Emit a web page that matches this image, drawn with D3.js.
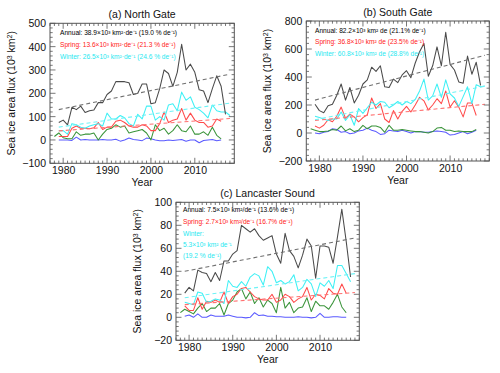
<!DOCTYPE html>
<html>
<head>
<meta charset="utf-8">
<script src="https://cdn.jsdelivr.net/npm/d3@7"></script>
<style>
  body { margin: 0; background: #fff; }
  svg { display: block; font-family: "Liberation Sans", Arial, sans-serif; }
</style>
</head>
<body>
<script>
// ---- data ----
const titles = ["(a) North Gate", "(b) South Gate", "(c) Lancaster Sound"];
const startAnnual = 1979, startSpring = 1979, startWinter = 1979, startSummer = 1978, startAutumn = 1979;
const trendYears = [1979, 2018];

// (a) North Gate
const northAnnual = [75,85,65,140,130,145,118,125,128,160,160,195,210,250,250,250,245,195,200,240,240,155,160,220,300,285,230,290,410,300,325,290,215,210,160,220,275,230,110];
const northSpring = [15,15,15,50,60,50,50,48,52,75,45,55,55,80,85,75,60,55,55,65,60,40,40,70,120,75,85,90,135,85,115,85,75,75,55,60,90,80];
const northWinter = [40,40,25,70,65,55,50,60,65,70,60,115,90,90,105,95,70,60,110,90,145,145,85,100,85,150,155,125,205,170,185,140,130,115,95,150,125,120,120,105];
const northSummer = [15,30,10,5,5,35,20,25,25,30,0,25,45,50,65,55,60,30,35,40,45,30,0,65,40,50,25,40,65,40,35,60,25,25,35,20,55,20,5];
const northAutumn = [0,0,0,-2,12,0,2,0,0,0,2,0,0,3,-5,0,8,2,0,-3,8,5,0,-3,-3,0,-2,0,2,-5,0,0,-12,-2,0,2,-3,0];
const northTrendAnnual = [130, 282], northTrendSpring = [39, 92], northTrendWinter = [55, 158];
const northLabels = ["Annual: 38.9×10³ km²·de⁻¹ (19.0 % de⁻¹)", "Spring: 13.6×10³ km²·de⁻¹ (21.3 % de⁻¹)", "Winter: 26.5×10³ km²·de⁻¹ (24.6 % de⁻¹)"];
const northTicks = [-100, 0, 100, 200, 300, 400, 500];

// (b) South Gate
const southAnnual = [205,160,145,195,205,270,350,235,325,215,270,350,380,470,440,480,330,325,385,360,415,445,395,500,580,640,405,480,615,480,720,490,450,365,355,550,420,505,340];
const southSpring = [50,35,55,95,80,120,185,105,135,115,80,110,130,250,175,210,100,75,160,100,155,190,150,200,255,230,165,200,245,210,300,185,230,185,115,215,215,125];
const southWinter = [120,110,100,90,100,100,150,90,130,55,175,140,180,220,200,225,220,180,200,225,200,225,210,240,300,385,235,265,350,255,380,280,250,190,260,330,210,345,330,335];
const southSummer = [30,20,10,10,15,25,20,50,15,30,10,20,55,30,50,50,40,5,55,20,20,25,20,15,10,10,5,0,10,35,40,20,20,10,15,10,10,10,25];
const southAutumn = [0,-5,5,10,30,25,5,10,-5,0,15,20,35,20,10,-10,-5,20,15,10,20,10,0,10,10,5,5,10,15,10,5,-15,-10,0,10,-5,5,20];
const southTrendAnnual = [235, 555], southTrendSpring = [90, 205], southTrendWinter = [95, 335];
const southLabels = ["Annual: 82.2×10³ km² de  (21.1% de⁻¹)", "Spring: 36.8×10³ km² de  (23.5% de⁻¹)", "Winter: 60.8×10³ km² de  (28.8% de⁻¹)"];
const southTicks = [-200, 0, 200, 400, 600, 800];

// (c) Lancaster Sound
const lancAnnual = [21,26,23,41,39,38,31,39,32,49,49,55,58,80,77,74,77,71,67,69,71,55,47,73,58,53,43,54,68,62,34,62,62,61,47,70,94,66,35];
const lancSpring = [10,6,6,17,7,14,13,15,13,22,12,18,20,25,26,22,18,16,15,15,20,13,15,20,18,13,16,18,26,15,20,19,16,25,21,20,29,21];
const lancWinter = [13,12,11,22,21,13,14,16,15,12,32,27,26,31,27,35,38,36,28,44,40,30,32,29,31,37,23,26,33,29,18,30,27,32,25,45,45,38,31];
const lancSummer = [4,7,5,3,8,12,5,8,8,12,2,12,15,22,25,16,22,12,17,9,15,12,4,26,8,13,4,8,9,17,5,14,10,10,7,13,20,9,4];
const lancAutumn = [1,2,0,3,0,0,2,1,1,1,2,1,0,0,-0.5,0,4,1.5,2,1,1,0.5,0.5,0,0,0,0.5,0,0,-0.5,0,3.5,0,0,0.5,0.5,0,0];
const lancTrendAnnual = [40, 69], lancTrendSpring = [11, 21.5], lancTrendWinter = [17, 38];
const lancLabels = ["Annual: 7.5×10³ km²/de⁻¹ (13.6% de⁻¹)", "Spring: 2.7×10³ km²/de⁻¹ (16.7% de⁻¹)", "Winter:", "5.3×10³ km² de⁻¹", "(19.2 % de⁻¹)"];
const lancTicks = [-20, 0, 20, 40, 60, 80, 100];

const col = { annual: "#4a4a4a", spring: "#ff4a4a", winter: "#3ef0f5", summer: "#3a943a", autumn: "#5a5aff" };
const trendCol = { annual: "#707070", spring: "#ff7070", winter: "#6ef3f6" };
const labelCol = ["#000", "#ff2020", "#1ee8f0", "#1ee8f0", "#1ee8f0"];

const svg = d3.select("body").append("svg").attr("width", 500).attr("height", 373);

const panels = [
  { title: titles[0], x0: 50, x1: 234.3, y0: 23.3, y1: 163.3, ticks: northTicks, minor: 20,
    annual: northAnnual, spring: northSpring, winter: northWinter, summer: northSummer, autumn: northAutumn,
    trends: [northTrendAnnual, northTrendSpring, northTrendWinter], labels: northLabels,
    labelX: 60, labelY: [33, 45, 57] },
  { title: titles[1], x0: 306.3, x1: 489.3, y0: 21, y1: 161, ticks: southTicks, minor: 40,
    annual: southAnnual, spring: southSpring, winter: southWinter, summer: southSummer, autumn: southAutumn,
    trends: [southTrendAnnual, southTrendSpring, southTrendWinter], labels: southLabels,
    labelX: 315, labelY: [30.5, 42, 54] },
  { title: titles[2], x0: 176, x1: 359.3, y0: 202.3, y1: 340.3, ticks: lancTicks, minor: 4,
    annual: lancAnnual, spring: lancSpring, winter: lancWinter, summer: lancSummer, autumn: lancAutumn,
    trends: [lancTrendAnnual, lancTrendSpring, lancTrendWinter], labels: lancLabels,
    labelX: 183, labelY: [209.5, 221.5, 233.5, 245, 256] }
];

function drawPanel(p) {
  const g = svg.append("g");
  const yMin = d3.min(p.ticks), yMax = d3.max(p.ticks);
  const x = d3.scaleLinear().domain([1977, 2019]).range([p.x0, p.x1]);
  const y = d3.scaleLinear().domain([yMin, yMax]).range([p.y1, p.y0]);

  const line = start => d3.line().x((d, i) => x(start + i)).y(d => y(d));

  // seasonal series, back to front
  const series = [
    [p.autumn, startAutumn, col.autumn],
    [p.summer, startSummer, col.summer],
    [p.spring, startSpring, col.spring],
    [p.winter, startWinter, col.winter],
    [p.annual, startAnnual, col.annual]
  ];
  series.forEach(([vals, start, c]) => {
    g.append("path").datum(vals)
      .attr("d", line(start))
      .attr("fill", "none")
      .attr("stroke", c)
      .attr("stroke-width", 1.05)
      .attr("stroke-linejoin", "round");
  });

  // dashed trend lines
  const tc = [trendCol.annual, trendCol.spring, trendCol.winter];
  p.trends.forEach((t, i) => {
    g.append("line")
      .attr("x1", x(trendYears[0])).attr("y1", y(t[0]))
      .attr("x2", x(trendYears[1])).attr("y2", y(t[1]))
      .attr("stroke", tc[i]).attr("stroke-width", 1.1)
      .attr("stroke-dasharray", "4,3");
  });

  // box with ticks on all sides
  const minorY = d3.range(yMin, yMax + 0.001, p.minor);
  const xMajor = d3.range(1980, 2019, 10);
  const xMinor = d3.range(1977, 2020, 1);
  const axisCol = "#555";

  const axL = d3.axisLeft(y).tickValues(p.ticks).tickSize(0).tickPadding(4);
  g.append("g").attr("transform", `translate(${p.x0},0)`).call(axL)
    .call(a => a.select(".domain").remove())
    .selectAll("text").attr("font-size", 10.5).attr("fill", "#111");

  const axB = d3.axisBottom(x).tickValues(xMajor).tickFormat(d3.format("d")).tickSize(0).tickPadding(3.5);
  g.append("g").attr("transform", `translate(0,${p.y1})`).call(axB)
    .call(a => a.select(".domain").remove())
    .selectAll("text").attr("font-size", 10.5).attr("fill", "#111");

  const ticks = g.append("g").attr("stroke", axisCol).attr("stroke-width", 0.8);
  minorY.forEach(v => {
    const len = p.ticks.includes(+v.toFixed(3)) ? 5.5 : 2.7;
    ticks.append("line").attr("x1", p.x0).attr("x2", p.x0 + len).attr("y1", y(v)).attr("y2", y(v));
    ticks.append("line").attr("x1", p.x1).attr("x2", p.x1 - len).attr("y1", y(v)).attr("y2", y(v));
  });
  xMinor.forEach(v => {
    const len = v % 10 === 0 ? 5.5 : 2.7;
    ticks.append("line").attr("x1", x(v)).attr("x2", x(v)).attr("y1", p.y1).attr("y2", p.y1 - len);
    ticks.append("line").attr("x1", x(v)).attr("x2", x(v)).attr("y1", p.y0).attr("y2", p.y0 + len);
  });
  g.append("rect")
    .attr("x", p.x0).attr("y", p.y0)
    .attr("width", p.x1 - p.x0).attr("height", p.y1 - p.y0)
    .attr("fill", "none").attr("stroke", axisCol).attr("stroke-width", 1);

  // titles
  g.append("text").attr("x", (p.x0 + p.x1) / 2).attr("y", p.y0 - 5.5)
    .attr("text-anchor", "middle").attr("font-size", 10.5).attr("fill", "#111").text(p.title);
  g.append("text").attr("x", (p.x0 + p.x1) / 2).attr("y", p.y1 + 23)
    .attr("text-anchor", "middle").attr("font-size", 10.5).attr("fill", "#111").text("Year");
  const yl = g.append("text")
    .attr("transform", `translate(${p.x0 - 35},${(p.y0 + p.y1) / 2}) rotate(-90)`)
    .attr("text-anchor", "middle").attr("font-size", 10.5).attr("fill", "#111");
  yl.append("tspan").text("Sea ice area flux (10");
  yl.append("tspan").attr("font-size", 7).attr("dy", -3.5).text("3");
  yl.append("tspan").attr("dy", 3.5).text(" km");
  yl.append("tspan").attr("font-size", 7).attr("dy", -3.5).text("2");
  yl.append("tspan").attr("dy", 3.5).text(")");

  // in-plot trend annotations
  p.labels.forEach((t, i) => {
    g.append("text").attr("x", p.labelX).attr("y", p.labelY[i]).attr("dy", "0.35em")
      .attr("font-size", 6.6).attr("fill", labelCol[i]).text(t);
  });
}

panels.forEach(drawPanel);
</script>
</body>
</html>
